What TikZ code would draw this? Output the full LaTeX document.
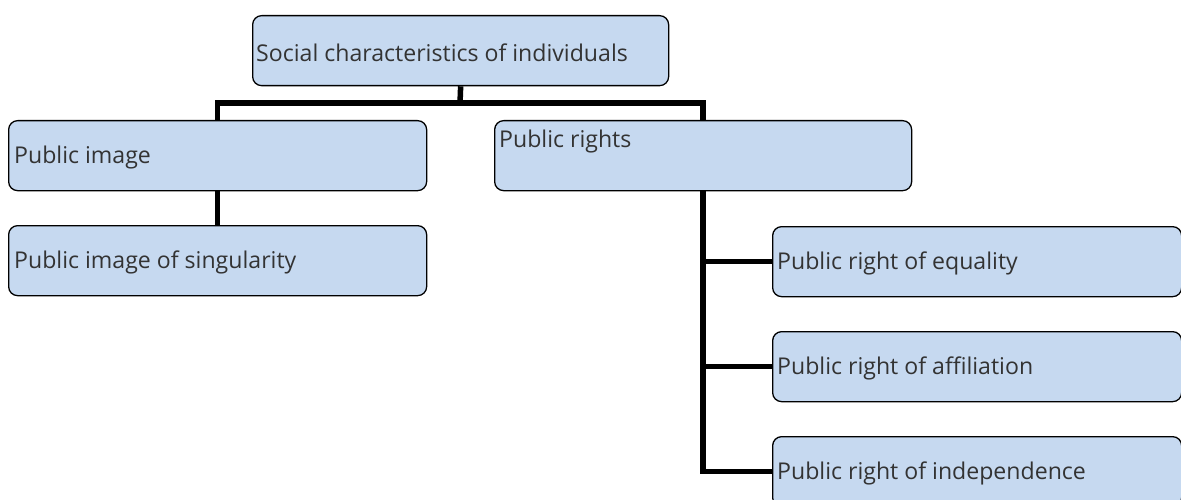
\documentclass[tikz,border=0pt]{standalone}
\usepackage{fontspec}
\setmainfont{Open Sans}
\begin{document}
\begin{tikzpicture}[x=1pt,y=-1pt,
  box/.style={draw=black, line width=1.3pt, rounded corners=9pt, fill=boxfill, inner sep=0pt, anchor=north west},
  lbl/.style={text=black!80, font=\fontsize{23.1}{27}\selectfont, inner sep=0pt},
  conn/.style={line width=5.5pt, draw=black}]
\definecolor{boxfill}{HTML}{C6D9F0}
\useasboundingbox (0,0) rectangle (1181,500);
\clip (0,0) rectangle (1181,500);
% boxes
\node[box, minimum width=416pt, minimum height=70pt] (top) at (252,15) {};
\node[box, minimum width=418pt, minimum height=70pt] (pi) at (8,120) {};
\node[box, minimum width=418pt, minimum height=70pt] (ps) at (8,225) {};
\node[box, minimum width=417pt, minimum height=70pt] (pr) at (494,120) {};
\node[box, minimum width=409pt, minimum height=70pt] (r1) at (772,226) {};
\node[box, minimum width=409pt, minimum height=70pt] (r2) at (772,331) {};
\node[box, minimum width=409pt, minimum height=70pt] (r3) at (772,436) {};
% labels
\node[lbl, anchor=west] (ttop) at ([xshift=4pt,yshift=-2pt]top.west) {Social characteristics of individuals};
\node[lbl, anchor=west] (tpi) at ([xshift=6pt,yshift=-2pt]pi.west) {Public image};
\node[lbl, anchor=west] (tps) at ([xshift=6pt,yshift=-2pt]ps.west) {Public image of singularity};
\node[lbl, anchor=north west] (tpr) at ([xshift=5pt,yshift=-10pt]pr.north west) {Public rights};
\node[lbl, anchor=west] (tr1) at ([xshift=5pt,yshift=-2pt]r1.west) {Public right of equality};
\node[lbl, anchor=west] (tr2) at ([xshift=5pt,yshift=-2pt]r2.west) {Public right of affiliation};
\node[lbl, anchor=west] (tr3) at ([xshift=5pt,yshift=-2pt]r3.west) {Public right of independence};
% connectors
\coordinate (bus) at (460,103);
\draw[conn] (top.south) -- (bus);
\draw[conn] (pi.north) |- (bus) -| (pr.north);
\draw[conn] (pi.south) -- (ps.north);
\draw[conn] (pr.south) |- (r3.west);
\draw[conn] (pr.south |- r1.west) -- (r1.west);
\draw[conn] (pr.south |- r2.west) -- (r2.west);
\end{tikzpicture}
\end{document}
